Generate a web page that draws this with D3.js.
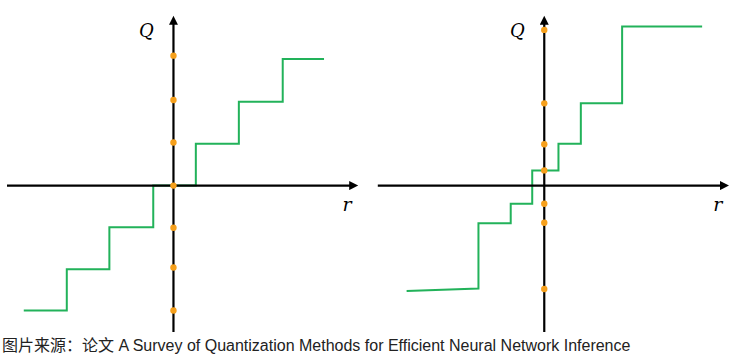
<!DOCTYPE html>
<html>
<head>
<meta charset="UTF-8">
<script src="https://d3js.org/d3.v7.min.js"></script>
<style>
  body { margin: 0; background: #fff; }
</style>
</head>
<body>
<svg id="ch" width="738" height="361"></svg>
<script>
// left panel: uniform (symmetric) quantization
var leftEdges = [-3.48, -2.48, -1.49, -0.47, 0.52, 1.52, 2.54, 3.5];
var leftLevels = [-2.96, -1.98, -0.99, 0, 0.99, 1.99, 3.0];
var leftStart = -2.96;
var leftDots = [3.08, 2.03, 1.02, 0, -1.0, -1.94, -2.96];

// right panel: non-uniform quantization
var rightEdges = [-3.2, -1.53, -0.78, -0.28, 0.33, 0.85, 1.81, 3.67];
var rightLevels = [-2.44, -0.89, -0.43, 0.36, 0.99, 1.95, 3.77];
var rightStart = -2.5;
var rightDots = [3.69, 1.95, 0.98, 0.36, -0.43, -0.88, -2.45];

var rLimits = [-3.87, 4.29];
var qLimits = [-3.47, 4.02];

var caption = "图片来源：论文 A Survey of Quantization Methods for Efficient Neural Network Inference";

var svg = d3.select("#ch");

var x = d3.scaleLinear().domain(rLimits).range([7, 358]);
var y = d3.scaleLinear().domain(qLimits).range([332, 16]);

svg.append("defs").append("marker")
  .attr("id", "arrow")
  .attr("viewBox", "0 0 10 10")
  .attr("refX", 2).attr("refY", 5)
  .attr("markerWidth", 4.5).attr("markerHeight", 4.5)
  .attr("markerUnits", "userSpaceOnUse")
  .attr("markerWidth", 10).attr("markerHeight", 9)
  .attr("orient", "auto")
  .append("path")
  .attr("d", "M0,0 L10,5 L0,10 z")
  .attr("fill", "#000");

function stepPoints(edges, levels, start) {
  var pts = [[edges[0], start], [edges[1], levels[0]]];
  for (var i = 1; i < levels.length; i++) {
    pts.push([edges[i], levels[i]]);
    pts.push([edges[i + 1], levels[i]]);
  }
  return pts;
}

function panel(dx, edges, levels, start, dots) {
  var g = svg.append("g").attr("transform", "translate(" + dx + ",0)");

  g.append("path")
    .datum(stepPoints(edges, levels, start))
    .attr("fill", "none")
    .attr("stroke", "#22b25a")
    .attr("stroke-width", 2)
    .attr("d", d3.line().x(function (d) { return x(d[0]); }).y(function (d) { return y(d[1]); }));

  // r axis
  g.append("line")
    .attr("x1", x(rLimits[0])).attr("x2", x(rLimits[1]) - 7)
    .attr("y1", y(0)).attr("y2", y(0))
    .attr("stroke", "#000").attr("stroke-width", 2.4)
    .attr("marker-end", "url(#arrow)");

  // Q axis
  g.append("line")
    .attr("x1", x(0)).attr("x2", x(0))
    .attr("y1", y(qLimits[0])).attr("y2", y(qLimits[1]) + 7)
    .attr("stroke", "#000").attr("stroke-width", 2.2)
    .attr("marker-end", "url(#arrow)");

  g.selectAll("circle")
    .data(dots)
    .enter().append("circle")
    .attr("cx", x(0))
    .attr("cy", function (d) { return y(d); })
    .attr("r", 3.2)
    .attr("fill", "#f6a01c");

  g.append("text")
    .attr("x", x(0) - 27).attr("y", 37)
    .attr("text-anchor", "middle")
    .style("font-family", "'DejaVu Serif', serif")
    .style("font-style", "italic")
    .style("font-size", "18px")
    .text("Q");

  g.append("text")
    .attr("x", x(rLimits[1]) - 11).attr("y", 211)
    .attr("text-anchor", "middle")
    .style("font-family", "'DejaVu Serif', serif")
    .style("font-style", "italic")
    .style("font-size", "19px")
    .text("r");
}

panel(0, leftEdges, leftLevels, leftStart, leftDots);
panel(370.8, rightEdges, rightLevels, rightStart, rightDots);

svg.append("text")
  .attr("x", 2).attr("y", 351)
  .style("font-family", "'Liberation Sans', 'Noto Sans CJK SC', sans-serif")
  .style("font-size", "16px")
  .attr("fill", "#222")
  .text(caption);
</script>
</body>
</html>
